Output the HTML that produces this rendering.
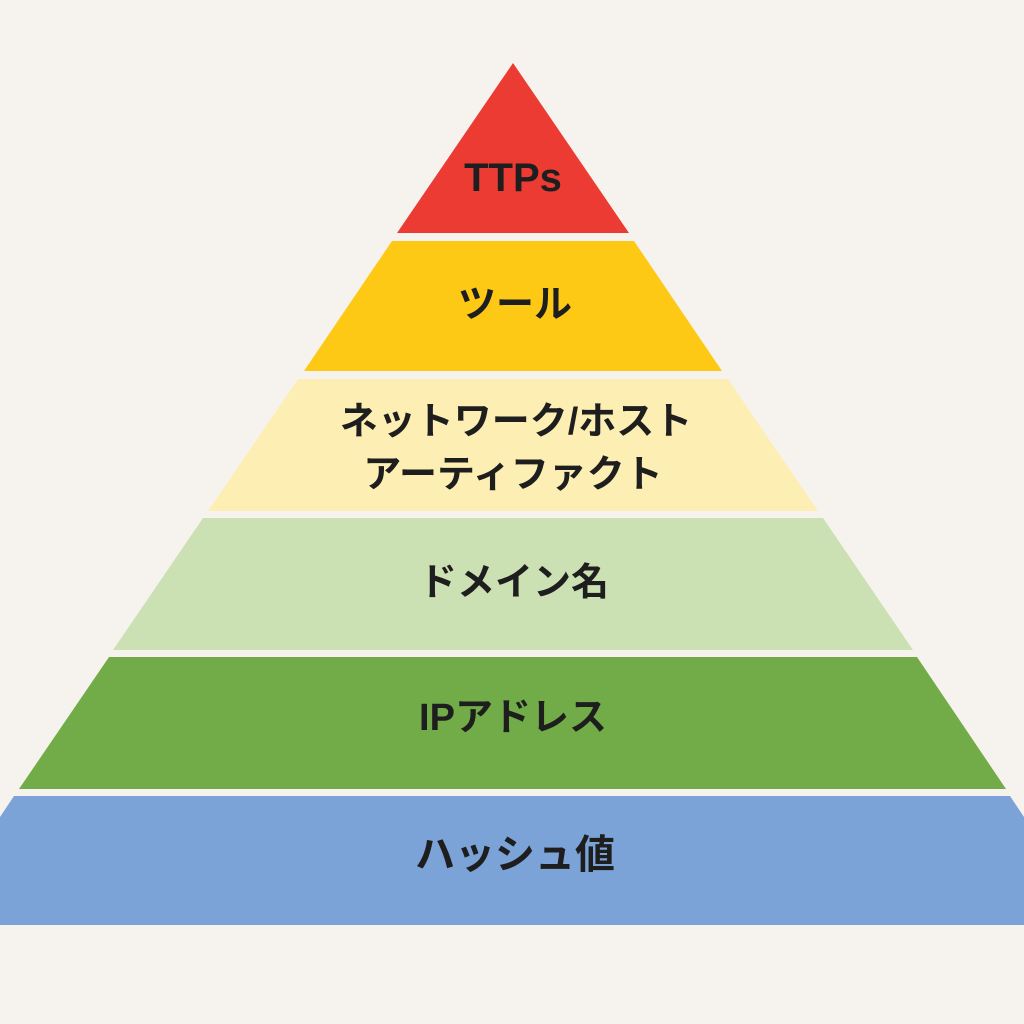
<!DOCTYPE html>
<html><head><meta charset="utf-8"><style>
html,body{margin:0;padding:0;background:#f6f3ee;}
svg{display:block}
text{font-family:"Liberation Sans","Noto Sans CJK JP",sans-serif;font-weight:bold;fill:#1e1e1e;text-anchor:middle;dominant-baseline:central}
</style></head><body>
<svg width="1024" height="1024" viewBox="0 0 1024 1024">
<rect width="1024" height="1024" fill="#f6f3ee"/>
<polygon points="513,63 629,233 397,233" fill="#ec3b33"/>
<polygon points="392,241 634,241 722,371 304,371" fill="#fdc914"/>
<polygon points="298,379 728,379 818,511 208,511" fill="#fdefb3"/>
<polygon points="203,518 823,518 913,650 113,650" fill="#cce1b3"/>
<polygon points="109,657 917,657 1006,789 19,789" fill="#72ac48"/>
<polygon points="14,796 1010,796 1024,817 1024,925 0,925 0,817" fill="#7ba3d7"/>
<text x="513" y="178" font-size="40">TTPs</text>
<text x="515" y="305" font-size="38">ツール</text>
<text x="516" y="422" font-size="38">ネットワーク/ホスト</text>
<text x="513" y="475" font-size="38">アーティファクト</text>
<text x="514" y="583" font-size="38">ドメイン名</text>
<text x="513" y="718" font-size="38">IPアドレス</text>
<text x="515" y="855" font-size="40">ハッシュ値</text>
</svg>
</body></html>
